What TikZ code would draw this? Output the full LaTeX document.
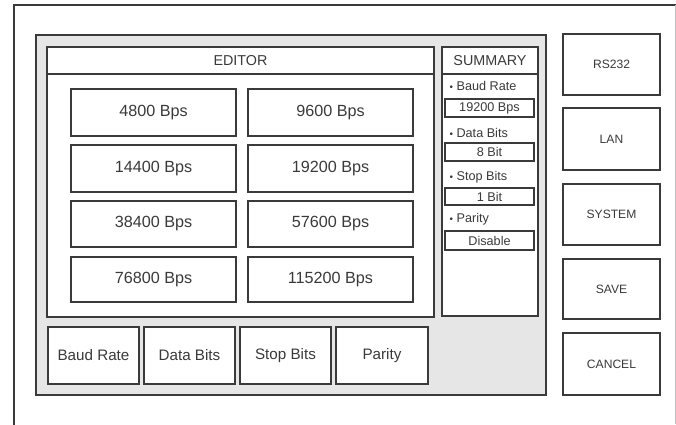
\documentclass[tikz,border=0pt]{standalone}
\usepackage{fontspec}
\setmainfont{Liberation Sans}
\definecolor{linha}{HTML}{3A3A3A}
\definecolor{painel}{HTML}{E6E6E6}

\begin{document}
\begin{tikzpicture}[x=0.025cm, y=-0.025cm, line width=1.3pt,
  caixa/.style={draw=linha, fill=white},
  taxa/.style={font=\fontsize{11.5}{13}\selectfont, text=linha},
  aba/.style={font=\fontsize{10.8}{12}\selectfont, text=linha},
  titulo/.style={font=\fontsize{10.2}{12}\selectfont, text=linha},
  item/.style={font=\fontsize{9}{10}\selectfont, text=linha},
  lateral/.style={font=\fontsize{8.6}{10}\selectfont, text=linha}]
\useasboundingbox (0,0) rectangle (676,424);

% Moldura externa
\draw[linha] (14,430) -- (14,5) -- (676,5);
\draw[black!25, line width=0.6pt] (675,5) -- (675,424);

% Painel cinza
\draw[draw=linha, fill=painel] (36,35) rectangle (546,395);

% Editor
\draw[caixa] (47,47) rectangle (434,317);
\draw[linha] (47,74) -- (434,74);
\node[titulo] (editor) at (240.5,60.5) {EDITOR};

% Botoes de taxa
\draw[caixa] (71,89) rectangle (236,136);
\node[taxa] (b4800) at (153.5,112.5) {4800 Bps};
\draw[caixa] (248,89) rectangle (413,136);
\node[taxa] (b9600) at (330.5,112.5) {9600 Bps};
\draw[caixa] (71,145) rectangle (236,192);
\node[taxa] (b14400) at (153.5,168.5) {14400 Bps};
\draw[caixa] (248,145) rectangle (413,192);
\node[taxa] (b19200) at (330.5,168.5) {19200 Bps};
\draw[caixa] (71,201) rectangle (236,247);
\node[taxa] (b38400) at (153.5,224) {38400 Bps};
\draw[caixa] (248,201) rectangle (413,247);
\node[taxa] (b57600) at (330.5,224) {57600 Bps};
\draw[caixa] (71,257) rectangle (236,302);
\node[taxa] (b76800) at (153.5,279.5) {76800 Bps};
\draw[caixa] (248,257) rectangle (413,302);
\node[taxa] (b115200) at (330.5,279.5) {115200 Bps};

% Abas de baixo
\draw[caixa] (48,327) rectangle (139,384);
\node[aba] (baud) at (93.5,355.5) {Baud Rate};
\draw[caixa] (144,327) rectangle (235,384);
\node[aba] (data) at (189.5,355.5) {Data Bits};
\draw[caixa] (240,327) rectangle (331,384);
\node[aba] (stop) at (285.5,355.5) {Stop Bits};
\draw[caixa] (336,327) rectangle (428,384);
\node[aba] (parity) at (382,355.5) {Parity};

% Resumo
\draw[caixa] (442,47) rectangle (538,316);
\draw[linha] (442,74) -- (538,74);
\node[titulo] (summary) at (490,60.5) {SUMMARY};

\node[item, anchor=west] (sbaud) at (444,86) {{\scriptsize\textbullet}\ Baud Rate};
\draw[caixa] (445,99) rectangle (534,117);
\node[item] (vbaud) at (489.5,108) {19200 Bps};
\node[item, anchor=west] (sdata) at (444,133) {{\scriptsize\textbullet}\ Data Bits};
\draw[caixa] (445,143) rectangle (534,161);
\node[item] (vdata) at (489.5,152) {8 Bit};
\node[item, anchor=west] (sstop) at (444,177) {{\scriptsize\textbullet}\ Stop Bits};
\draw[caixa] (445,188) rectangle (534,205);
\node[item] (vstop) at (489.5,196.5) {1 Bit};
\node[item, anchor=west] (sparity) at (444,219) {{\scriptsize\textbullet}\ Parity};
\draw[caixa] (445,231) rectangle (534,250);
\node[item] (vparity) at (489.5,240.5) {Disable};

% Botoes laterais
\draw[caixa] (563,34) rectangle (660,95);
\node[lateral] (rs232) at (611.5,64.5) {RS232};
\draw[caixa] (563,108) rectangle (660,170);
\node[lateral] (lan) at (611.5,139) {LAN};
\draw[caixa] (563,184) rectangle (660,245);
\node[lateral] (system) at (611.5,214.5) {SYSTEM};
\draw[caixa] (563,259) rectangle (660,319);
\node[lateral] (save) at (611.5,289) {SAVE};
\draw[caixa] (563,333) rectangle (660,395);
\node[lateral] (cancel) at (611.5,364) {CANCEL};

\end{tikzpicture}
\end{document}
